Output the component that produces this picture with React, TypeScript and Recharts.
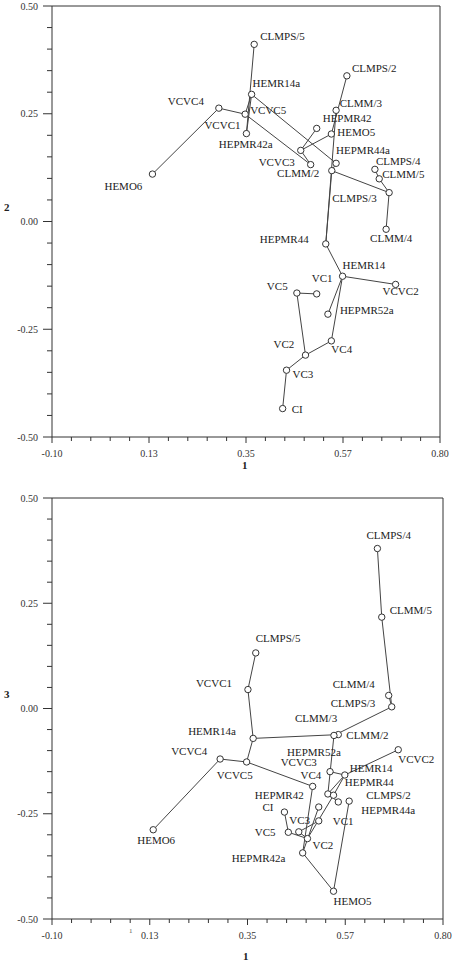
import React from 'react';
import { ScatterChart, Scatter, XAxis, YAxis, ReferenceLine } from 'recharts';

// site names and their scores on dimensions 1, 2 and 3
const NAMES = [
  'CLMPS/5', 'CLMPS/2', 'HEMR14a', 'HEPMR44a', 'VCVC4', 'VCVC5', 'HEPMR42', 'VCVC1',
  'HEMO5', 'HEPMR42a', 'CLMM/2', 'VCVC3', 'CLMPS/4', 'CLMM/3', 'HEMO6', 'CLMM/5',
  'CLMPS/3', 'CLMM/4', 'HEPMR44', 'HEMR14', 'VCVC2', 'VC5', 'VC1', 'HEPMR52a',
  'VC4', 'VC2', 'VC3', 'CI',
];
const DIM1 = [
  0.369, 0.584, 0.363, 0.559, 0.287, 0.348, 0.514, 0.351,
  0.548, 0.477, 0.559, 0.5, 0.649, 0.549, 0.133, 0.659,
  0.682, 0.675, 0.535, 0.574, 0.697, 0.468, 0.514, 0.54,
  0.548, 0.488, 0.444, 0.435,
];
const DIM2 = [
  0.411, 0.338, 0.295, 0.258, 0.263, 0.249, 0.216, 0.204,
  0.203, 0.165, 0.135, 0.132, 0.121, 0.118, 0.11, 0.099,
  0.067, -0.018, -0.052, -0.127, -0.146, -0.166, -0.168, -0.215,
  -0.277, -0.31, -0.345, -0.434,
];
const DIM3 = [
  0.132, -0.22, -0.071, -0.222, -0.12, -0.127, -0.234, 0.045,
  -0.434, -0.343, -0.062, -0.185, 0.38, -0.064, -0.288, 0.217,
  0.004, 0.031, -0.203, -0.158, -0.098, -0.293, -0.267, -0.15,
  -0.206, -0.309, -0.294, -0.246,
];

// minimum spanning tree links
const EDGES: [string, string][] = [
  ['CLMPS/5', 'VCVC1'], ['VCVC1', 'HEMR14a'], ['HEMR14a', 'VCVC5'], ['VCVC5', 'VCVC4'],
  ['VCVC4', 'HEMO6'], ['HEMR14a', 'CLMM/2'], ['CLMM/2', 'CLMM/3'], ['CLMM/3', 'CLMPS/3'],
  ['CLMPS/3', 'CLMM/5'], ['CLMM/5', 'CLMPS/4'], ['CLMPS/3', 'CLMM/4'], ['VCVC5', 'VCVC3'],
  ['HEPMR42a', 'VCVC3'], ['HEPMR42a', 'HEPMR42'], ['HEPMR42a', 'HEMO5'], ['HEMO5', 'CLMPS/2'],
  ['CLMM/3', 'HEPMR44'], ['HEPMR44a', 'HEPMR44'], ['HEPMR44', 'HEMR14'], ['HEMR14', 'VCVC2'],
  ['HEMR14', 'HEPMR52a'], ['HEMR14', 'VC4'], ['VC4', 'VC2'], ['VC2', 'VC5'],
  ['VC5', 'VC1'], ['VC2', 'VC3'], ['VC3', 'CI'],
];

const X_TICKS = [
  -0.1, -0.055, -0.01, 0.035, 0.08, 0.125, 0.17, 0.215, 0.26, 0.305, 0.35,
  0.395, 0.44, 0.485, 0.53, 0.575, 0.62, 0.665, 0.71, 0.755, 0.8,
];
const X_TICK_TEXT = [
  '-0.10', '', '', '', '', '0.13', '', '', '', '', '0.35',
  '', '', '', '', '0.57', '', '', '', '', '0.80',
];
const Y_TICKS = [
  -0.5, -0.45, -0.4, -0.35, -0.3, -0.25, -0.2, -0.15, -0.1, -0.05, 0,
  0.05, 0.1, 0.15, 0.2, 0.25, 0.3, 0.35, 0.4, 0.45, 0.5,
];
const Y_TICK_TEXT = [
  '-0.50', '', '', '', '', '-0.25', '', '', '', '', '0.00',
  '', '', '', '', '0.25', '', '', '', '', '0.50',
];

// label placement (px from the point: text start, text middle)
const TOP_LABELS: Record<string, [number, number]> = {
  'CLMPS/5': [6, -8], 'CLMPS/2': [5, -8], HEMR14a: [1, -11], VCVC4: [-51, -7],
  VCVC5: [5, -4], VCVC1: [-42, -9], HEPMR42a: [-82, -6], HEMO6: [-48, 12],
  HEPMR44a: [0, 40], HEPMR42: [6, -10], HEMO5: [6, -2], VCVC3: [-52, -3],
  'CLMM/2': [-59, 10], 'CLMM/3': [8, -68], 'CLMPS/4': [1, -8], 'CLMM/5': [3, -5],
  'CLMPS/3': [-57, 5], 'CLMM/4': [-16, 9], HEPMR44: [-66, -5], HEMR14: [0, -11],
  VCVC2: [-13, 7], VC1: [-5, -16], VC5: [-30, -7], HEPMR52a: [12, -4],
  VC4: [0, 8], VC2: [-32, -11], VC3: [6, 4], CI: [9, 0],
};
const BOTTOM_LABELS: Record<string, [number, number]> = {
  'CLMPS/4': [-11, -14], 'CLMM/5': [8, -7], 'CLMPS/5': [0, -15], VCVC1: [-52, -7],
  'CLMM/4': [-56, -11], 'CLMPS/3': [-61, -4], HEMR14a: [-65, -7], 'CLMM/3': [-39, -17],
  'CLMM/2': [8, 0], VCVC4: [-49, -8], VCVC5: [-30, 13], VCVC2: [0, 9],
  HEPMR52a: [-43, -20], HEMR14: [5, -7], VCVC3: [-32, -24], VC4: [-33, -20],
  HEPMR44: [17, -12], HEPMR42: [-64, -12], 'CLMPS/2': [17, -6], HEPMR44a: [23, 8],
  CI: [-22, -5], VC3: [1, -12], VC1: [14, 0], VC5: [-44, 0],
  VC2: [5, 6], HEMO6: [-16, 10], HEPMR42a: [-71, 5], HEMO5: [0, 10],
};

const INK = '#333';
const FONT = '"Liberation Serif", "Times New Roman", serif';

const YTick = (props: any) => {
  const { x, y, index } = props;
  const text = Y_TICK_TEXT[index];
  return (
    <g>
      <line x1={x - (text ? 9 : 5)} x2={x} y1={y} y2={y} stroke={INK} strokeWidth={1} />
      {text && (
        <text x={x - 14} y={y} textAnchor="end" dominantBaseline="central" fontSize={10} fill={INK} fontFamily={FONT}>
          {text}
        </text>
      )}
    </g>
  );
};

const XTick = (props: any) => {
  const { x, y, index } = props;
  const text = X_TICK_TEXT[index];
  return (
    <g>
      <line x1={x} x2={x} y1={y} y2={y + (text ? 6 : 4)} stroke={INK} strokeWidth={1} />
      {text && (
        <text x={x} y={y + 16} textAnchor="middle" dominantBaseline="central" fontSize={10} fill={INK} fontFamily={FONT}>
          {text}
        </text>
      )}
    </g>
  );
};

interface PanelProps {
  yValues: number[];
  labels: Record<string, [number, number]>;
  height: number;
  top: number;
  right: number;
  xAxisHeight: number;
}

const Panel: React.FC<PanelProps> = ({ yValues, labels, height, top, right, xAxisHeight }) => {
  const rows = NAMES.map((name, i) => ({ name, x: DIM1[i], y: yValues[i] }));
  const byName: Record<string, { x: number; y: number }> = {};
  rows.forEach((r) => (byName[r.name] = r));

  const renderPoint = (p: any) => {
    const [dx, dy] = labels[p.payload.name] || [6, 0];
    return (
      <g>
        <circle cx={p.cx} cy={p.cy} r={3.2} fill="#fff" stroke={INK} strokeWidth={1} />
        <text x={p.cx + dx} y={p.cy + dy} dominantBaseline="central" fontSize={11} fill="#222" fontFamily={FONT}>
          {p.payload.name}
        </text>
      </g>
    );
  };

  return (
    <ScatterChart width={457} height={height} margin={{ top, right, bottom: 0, left: 0 }}>
      <XAxis
        type="number"
        dataKey="x"
        domain={[-0.1, 0.8]}
        ticks={X_TICKS}
        interval={0}
        tick={<XTick />}
        tickLine={false}
        tickSize={0}
        tickMargin={0}
        height={xAxisHeight}
        axisLine={{ stroke: INK }}
        allowDataOverflow
      />
      <YAxis
        type="number"
        dataKey="y"
        domain={[-0.5, 0.5]}
        ticks={Y_TICKS}
        interval={0}
        tick={<YTick />}
        tickLine={false}
        tickSize={0}
        tickMargin={0}
        width={52}
        axisLine={{ stroke: INK }}
        allowDataOverflow
      />
      <ReferenceLine y={0.5} stroke={INK} strokeWidth={1} />
      <ReferenceLine x={0.8} stroke={INK} strokeWidth={1} />
      {EDGES.map(([a, b]) => (
        <Scatter
          key={a + b}
          data={[byName[a], byName[b]]}
          line={{ stroke: '#444', strokeWidth: 1 }}
          shape={() => <g />}
          isAnimationActive={false}
          legendType="none"
        />
      ))}
      <Scatter data={rows} shape={renderPoint} isAnimationActive={false} />
    </ScatterChart>
  );
};

const axisTitle = (text: string, left: number, top: number, size = 11): React.ReactNode => (
  <span
    style={{
      position: 'absolute',
      left,
      top,
      fontFamily: FONT,
      fontWeight: 'bold',
      fontSize: size,
      color: '#222',
      lineHeight: '12px',
    }}
  >
    {text}
  </span>
);

export default function App() {
  return (
    <div style={{ position: 'absolute', left: 0, top: 0, width: 457, height: 963, background: '#fff' }}>
      <div style={{ position: 'absolute', left: 0, top: 0 }}>
        <Panel yValues={DIM2} labels={TOP_LABELS} height={480} top={6} right={17} xAxisHeight={43} />
      </div>
      <div style={{ position: 'absolute', left: 0, top: 480 }}>
        <Panel yValues={DIM3} labels={BOTTOM_LABELS} height={483} top={18} right={14} xAxisHeight={44} />
      </div>
      {axisTitle('2', 4, 201)}
      {axisTitle('1', 242, 459)}
      {axisTitle('3', 4, 688)}
      {axisTitle('1', 243, 950)}
      <span style={{ position: 'absolute', left: 129, top: 927, fontFamily: FONT, fontSize: 7, color: '#555' }}>1</span>
    </div>
  );
}
